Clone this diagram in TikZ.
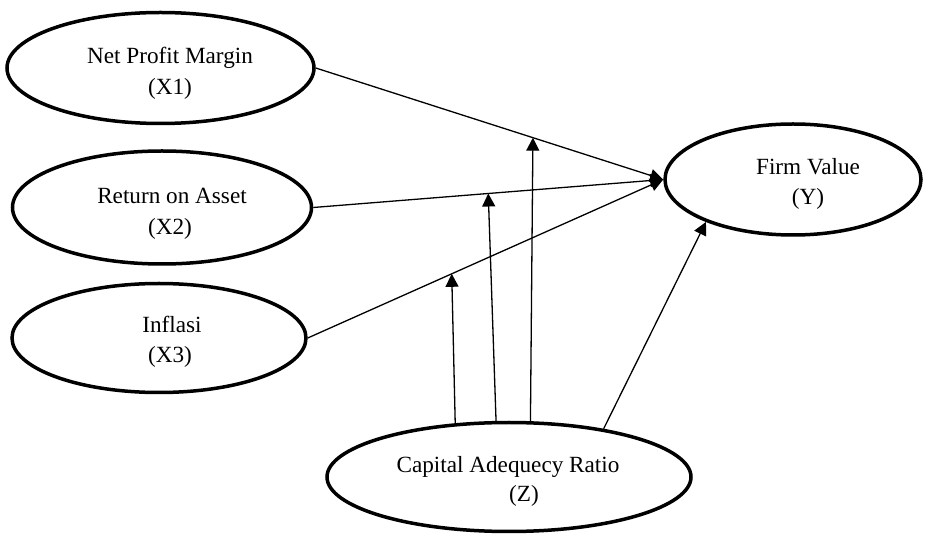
\documentclass[tikz,border=0pt]{standalone}
\usepackage{fontspec}
\setmainfont{Liberation Serif}
\usetikzlibrary{shapes.geometric,arrows.meta}
\begin{document}
\begin{tikzpicture}[x=1pt,y=-1pt,
  ell/.style={draw, ellipse, line width=3.5pt, inner sep=0pt},
  txt/.style={inner sep=0pt, anchor=base, font=\fontsize{23.2}{30}\selectfont},
  conn/.style={line width=1.3pt, -{Triangle[length=13pt,width=13pt]}}]
\useasboundingbox (0,0) rectangle (927,534);
% ellipses
\node[ell, minimum width=307pt, minimum height=111pt] (x1) at (160.5,68) {};
\node[ell, minimum width=299pt, minimum height=113pt] (x2) at (162,207.5) {};
\node[ell, minimum width=294pt, minimum height=109pt] (x3) at (159,338) {};
\node[ell, minimum width=256pt, minimum height=111pt] (y) at (793,179.5) {};
\node[ell, minimum width=364pt, minimum height=109pt] (z) at (509,477) {};
% texts
\node[txt] (x1a) at (170,64) {Net Profit Margin};
\node[txt] (x1b) at (170,95) {(X1)};
\node[txt] (x2a) at (172,204) {Return on Asset};
\node[txt] (x2b) at (170,235) {(X2)};
\node[txt] (x3a) at (172,333) {Inflasi};
\node[txt] (x3b) at (170,363) {(X3)};
\node[txt] (ya) at (808,175) {Firm Value};
\node[txt] (yb) at (808,205) {(Y)};
\node[txt] (za) at (508,473) {Capital Adequecy Ratio};
\node[txt] (zb) at (524,502) {(Z)};
% main arrows
\draw[conn] (x1.east) -- (y.west) coordinate[pos=0.625] (m1);
\draw[conn] (x2.east) -- (y.west) coordinate[pos=0.50] (m2);
\draw[conn] (x3.east) -- (y.west) coordinate[pos=0.405] (m3);
\draw[conn] (z.27) -- (y.206);
% moderating arrows
\draw[conn] (z.135.8) -- (m3);
\draw[conn] (z.103.3) -- (m2);
\draw[conn] (z.69.9) -- (m1);
\end{tikzpicture}
\end{document}
